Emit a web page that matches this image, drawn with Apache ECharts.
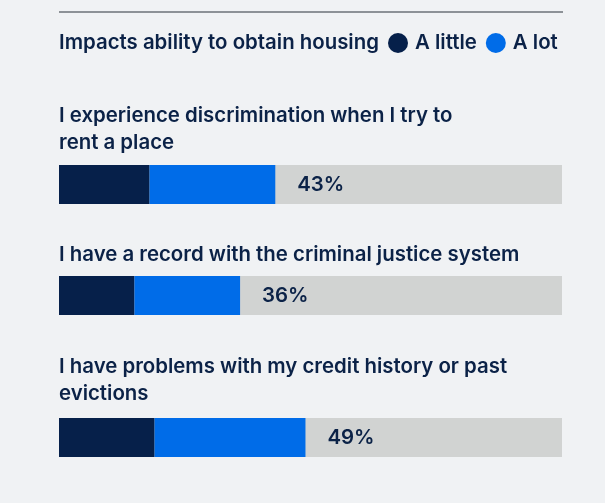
<!DOCTYPE html>
<html>
<head>
<meta charset="utf-8">
<script src="https://cdn.jsdelivr.net/npm/echarts@6/dist/echarts.min.js"></script>
<style>
  html, body { margin: 0; padding: 0; background: #f0f2f4; }
  #chart { width: 605px; height: 503px; }
</style>
</head>
<body>
<div id="chart"></div>
<script>
// Survey items: how much each barrier affects the ability to obtain housing (% of respondents)
const legendTitle = 'Impacts ability to obtain housing';
const seriesNames = ['A little', 'A lot'];
const questions = [
  'I experience discrimination when I try to\nrent a place',
  'I have a record with the criminal justice system',
  'I have problems with my credit history or past\nevictions'
];
const aLittle = [18, 15, 19];
const aLot = [25, 21, 30];

const NAVY = '#06204a';
const BLUE = '#006ce8';
const TRACK = '#d1d3d2';
const TEXT = '#0b2247';
const FONT = 'Inter';
const FONT_SIZE = 20.4;
const FONT_WEIGHT = 600;

// layout of each question block
const barTops = [165, 276, 418];
const questionTops = [102, 241, 353];
const BAR_H = 39;
const LEFT = 59;
const WIDTH = 503;

const chart = echarts.init(document.getElementById('chart'), null, { renderer: 'canvas' });

const grids = [], xAxes = [], yAxes = [], series = [], titles = [];

const textStyle = { color: TEXT, fontFamily: FONT, fontWeight: FONT_WEIGHT, fontSize: FONT_SIZE, lineHeight: 27 };

titles.push({ text: legendTitle, left: LEFT, top: 29, padding: 0, textStyle });

questions.forEach((q, i) => {
  titles.push({ text: q, left: LEFT, top: questionTops[i], padding: 0, textStyle });
  grids.push({ left: LEFT, width: WIDTH, top: barTops[i], height: BAR_H });
  xAxes.push({ type: 'value', gridIndex: i, min: 0, max: 100, show: false });
  yAxes.push({ type: 'category', gridIndex: i, data: [q], show: false });
  series.push({
    name: seriesNames[0], type: 'bar', stack: 'q' + i,
    xAxisIndex: i, yAxisIndex: i, barWidth: BAR_H,
    data: [aLittle[i]],
    itemStyle: { color: NAVY },
    showBackground: true,
    backgroundStyle: { color: TRACK },
    silent: true
  });
  series.push({
    name: seriesNames[1], type: 'bar', stack: 'q' + i,
    xAxisIndex: i, yAxisIndex: i, barWidth: BAR_H,
    data: [aLot[i]],
    itemStyle: { color: BLUE },
    label: {
      show: true, position: 'right', distance: 22,
      formatter: () => (aLittle[i] + aLot[i]) + '%',
      color: TEXT, fontFamily: FONT, fontWeight: FONT_WEIGHT, fontSize: FONT_SIZE
    },
    silent: true
  });
});

chart.setOption({
  backgroundColor: '#f0f2f4',
  animation: false,
  title: titles,
  legend: {
    data: seriesNames,
    left: 388, top: 33, padding: 0,
    icon: 'circle', itemWidth: 20, itemHeight: 20, itemGap: 9,
    selectedMode: false,
    textStyle: { color: TEXT, fontFamily: FONT, fontWeight: FONT_WEIGHT, fontSize: FONT_SIZE, padding: [0, 0, 0, 2] }
  },
  graphic: [{
    type: 'line',
    shape: { x1: LEFT, y1: 12, x2: 563, y2: 12 },
    style: { stroke: '#8d9297', lineWidth: 2 },
    silent: true
  }],
  grid: grids,
  xAxis: xAxes,
  yAxis: yAxes,
  series: series
});
</script>
</body>
</html>
